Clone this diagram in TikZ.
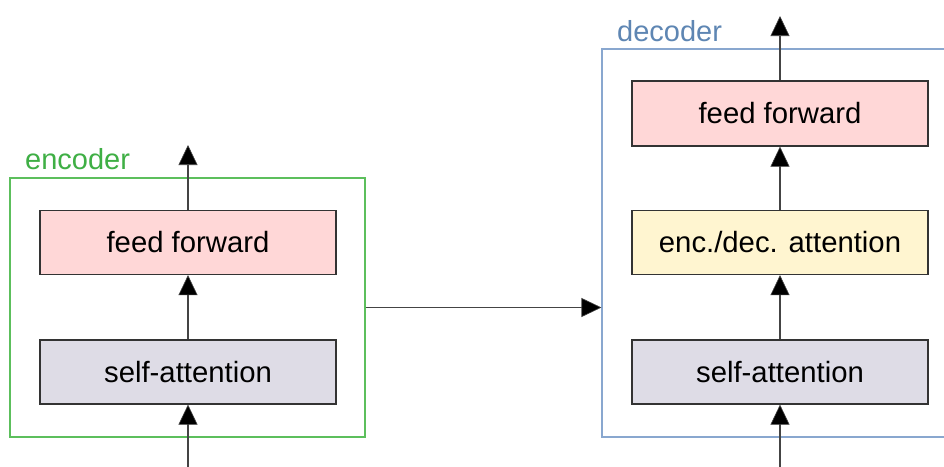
\documentclass[tikz,border=0pt]{standalone}
\usepackage{fontspec}
\setmainfont{Liberation Sans}
\usetikzlibrary{arrows.meta}
\definecolor{ffpink}{HTML}{FFD7D7}
\definecolor{salav}{HTML}{DEDCE6}
\definecolor{edyel}{HTML}{FFF5D0}
\definecolor{encgreen}{HTML}{5CBF5C}
\definecolor{enctext}{HTML}{3FAF45}
\definecolor{decblue}{HTML}{89A7CF}
\definecolor{dectext}{HTML}{5E86B3}
\definecolor{boxline}{HTML}{333333}
\definecolor{arrline}{HTML}{444444}
\tikzset{
  layer/.style={draw=boxline, line width=1.2pt, minimum width=296pt, minimum height=64pt, inner sep=0pt, font=\fontsize{29.3}{35}\selectfont, text=black},
  flow/.style={draw=arrline, line width=1.3pt, -{Triangle[length=20pt,width=19pt,fill=black,line width=0.6pt]}},
  container/.style={line width=1.1pt, inner sep=0pt},
  caption/.style={anchor=base west, inner sep=0pt, font=\fontsize{29}{35}\selectfont}
}
\begin{document}
\begin{tikzpicture}[x=1pt,y=-1pt]
\clip (0,0) rectangle (944,466);
\fill[white] (0,0) rectangle (944,466);
% containers
\node[container, draw=encgreen, minimum width=355pt, minimum height=259pt] (enc) at (187.5,307.5) {};
\node[container, draw=decblue, minimum width=360pt, minimum height=388pt] (dec) at (782,243) {};
\node[caption, text=enctext] (enclabel) at (25,169) {encoder};
\node[caption, text=dectext] (declabel) at (617,41) {decoder};
% encoder layers
\node[layer, fill=salav] (esa) at (188,372) {self-attention};
\node[layer, fill=ffpink] (eff) at (188,242.5) {feed forward};
% decoder layers
\node[layer, fill=salav] (dsa) at (780,372) {self-attention};
\node[layer, fill=edyel] (ded) at (780,242.5) {enc./dec. attention};
\node[layer, fill=ffpink, minimum height=65pt] (dff) at (780,113.5) {feed forward};
% free ends
\coordinate (ein) at (188,470);
\coordinate (eout) at (188,145);
\coordinate (din) at (780,470);
\coordinate (dout) at (780,16);
% connectors
\draw[flow] (ein) -- (esa.south);
\draw[flow] (esa.north) -- (eff.south);
\draw[flow] (eff.north) -- (eout);
\draw[flow] (din) -- (dsa.south);
\draw[flow] (dsa.north) -- (ded.south);
\draw[flow] (ded.north) -- (dff.south);
\draw[flow] (dff.north) -- (dout);
\draw[flow] (enc.east) -- (enc.east -| dec.west);
\end{tikzpicture}
\end{document}
